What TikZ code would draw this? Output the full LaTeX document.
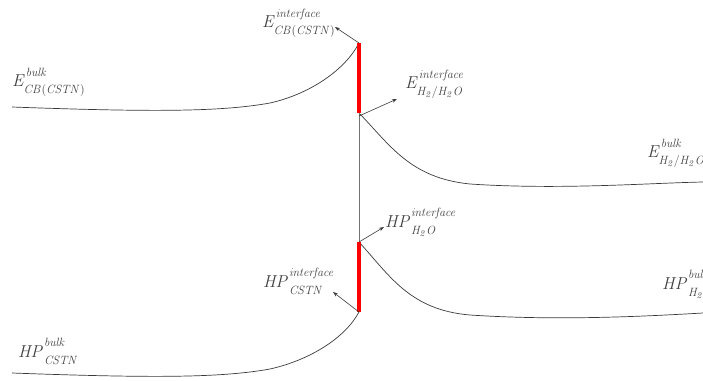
\documentclass[tikz,border=0pt]{standalone}
\usetikzlibrary{arrows.meta}
\DeclareMathSizes{17}{17}{12}{9}
\definecolor{ln}{HTML}{3A3A3A}
\definecolor{tx}{HTML}{404040}
\newcommand\lbl[3]{$\mathit{#1}^{\raisebox{3pt}{$\scriptstyle\mathit{#2}$}}_{\raisebox{-3.5pt}{$\scriptstyle\mathit{#3}$}}$}
\tikzset{
  curve/.style={draw=ln, line width=0.7pt},
  bar/.style={draw=red, line width=3.6pt},
  link/.style={draw=black!55, line width=0.7pt},
  pointer/.style={draw=ln, line width=0.6pt, -{Stealth[length=5pt,width=3.6pt]}},
  lab/.style={text=tx, font=\fontsize{17}{20}\selectfont, inner sep=0pt, anchor=base west}
}
\begin{document}
\begin{tikzpicture}[x=1pt,y=-1pt]
\useasboundingbox (0,0) rectangle (703,380);
\clip (0,0) rectangle (703,380);
% interface points
\coordinate (t1) at (359,43);
\coordinate (b1) at (359,113);
\coordinate (t2) at (359,242);
\coordinate (b2) at (359,312);
% bulk ends
\coordinate (ecl) at (12,107);
\coordinate (ecr) at (703,182);
\coordinate (hpl) at (12,373);
\coordinate (hpr) at (703,313);
% curves
\draw[curve] (ecl) .. controls (150,112) and (220,112) .. (270,103)
  .. controls (310,94) and (345,70) .. (t1);
\draw[curve] (b1) .. controls (390,145) and (410,178) .. (470,184)
  .. controls (560,190) and (650,183) .. (ecr);
\draw[curve] (hpl) .. controls (150,378) and (220,378) .. (270,369)
  .. controls (310,360) and (345,338) .. (b2);
\draw[curve] (t2) .. controls (390,276) and (410,310) .. (470,315)
  .. controls (560,321) and (650,316) .. (hpr);
% vertical link and bars
\draw[link] (b1) -- (t2);
\draw[bar] (t1) -- (b1);
\draw[bar] (t2) -- (b2);
% pointer ends
\coordinate (p1) at (335,27);
\coordinate (p2) at (397,99);
\coordinate (p3) at (384,227);
\coordinate (p4) at (333,292);
\draw[pointer] (t1) -- (p1);
\draw[pointer] ([yshift=-3pt]b1) -- (p2);
\draw[pointer] (t2) -- (p3);
\draw[pointer] (b2) -- (p4);
% labels
\node[lab] (L1) at (12,86) {\lbl{E}{bulk}{CB(CSTN)}};
\node[lab] (L2) at (262,27) {\lbl{E}{interface}{CB(CSTN)}};
\node[lab] (L3) at (405,88) {\lbl{E}{interface}{H_2/H_2O}};
\node[lab] (L4) at (647,157) {\lbl{E}{bulk}{H_2/H_2O}};
\node[lab] (L5) at (385,227) {\lbl{HP}{interface}{H_2O}};
\node[lab] (L6) at (263,287) {\lbl{HP}{interface}{CSTN}};
\node[lab] (L7) at (662,289) {\lbl{HP}{bulk}{H_2O}};
\node[lab] (L8) at (18,357) {\lbl{HP}{bulk}{CSTN}};
\end{tikzpicture}
\end{document}
